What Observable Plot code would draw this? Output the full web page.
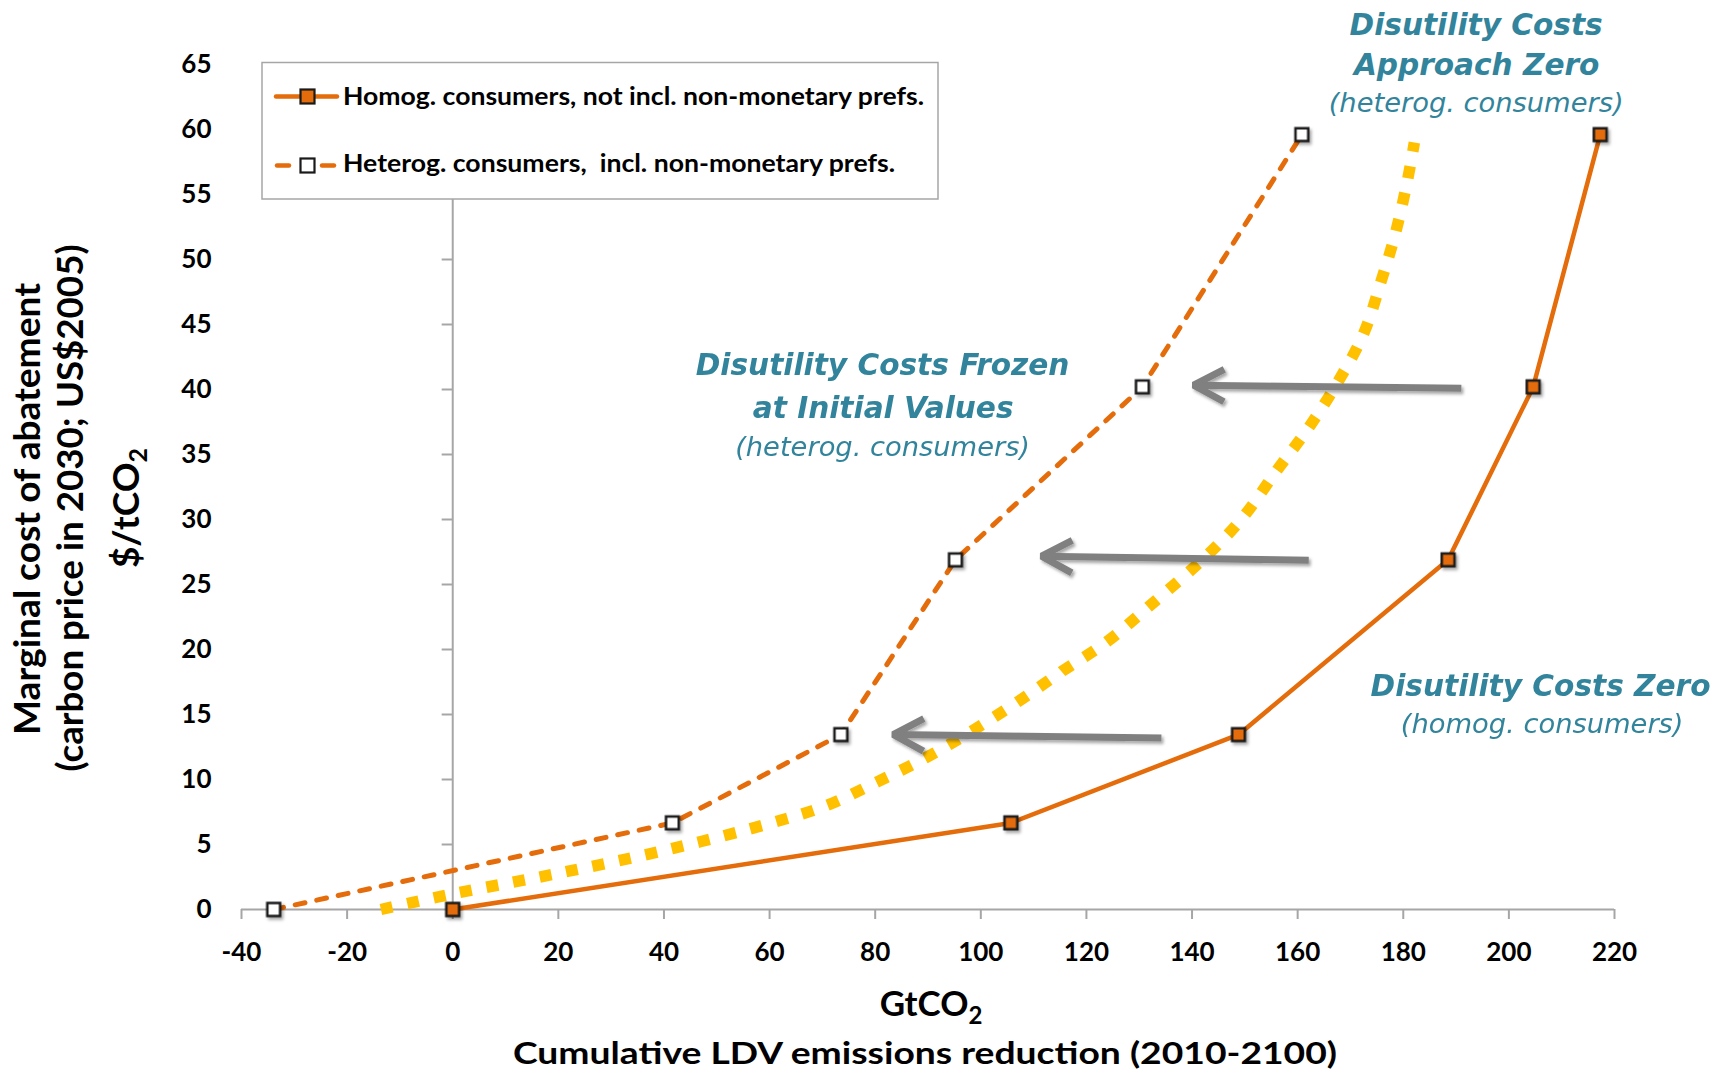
<!DOCTYPE html>
<html>
<head>
<meta charset="utf-8">
<script src="https://cdn.jsdelivr.net/npm/d3@7"></script>
<script src="https://cdn.jsdelivr.net/npm/@observablehq/plot@0.6"></script>
<style>
  html, body { margin: 0; padding: 0; background: #fff; }
  #chart { width: 1729px; height: 1073px; }
</style>
</head>
<body>
<div id="chart"></div>
<script>
// ---------------- data ----------------
const xTicks = [-40, -20, 0, 20, 40, 60, 80, 100, 120, 140, 160, 180, 200, 220];
const yTicks = [0, 5, 10, 15, 20, 25, 30, 35, 40, 45, 50, 55, 60, 65];

// marginal cost levels ($/tCO2) shared by both scenario series
const costLevels = [0, 6.66, 13.45, 26.9, 40.2, 59.6];
// cumulative reduction (GtCO2)
const homogReduction = [0, 105.7, 148.8, 188.5, 204.6, 217.3];
const heterogReduction = [-33.9, 41.6, 73.5, 95.2, 130.6, 160.8];

// "Disutility costs approach zero" curve (yellow dotted)
const approachReduction = [-13.6, 0, 20.2, 41.7, 60.7, 70.8, 80.3, 89.7, 98.6, 107.1, 115.3, 123.9, 131.8, 143.0, 149.7, 156.1, 161.8, 167.5, 172.5, 175.7, 178.5, 180.8, 182.1];
const approachCost = [0, 1.2, 2.8, 4.7, 6.7, 8.0, 9.8, 11.7, 13.8, 16.0, 18.3, 20.6, 23.3, 27.3, 30.2, 33.8, 36.9, 40.5, 44.3, 48.2, 52.0, 56.1, 59.0];

// shift arrows (from -> to), in data units
const arrowFromX = [191.0, 162.1, 134.2];
const arrowFromY = [40.1, 26.87, 13.2];
const arrowToX = [140.3, 111.5, 83.4];
const arrowToY = [40.33, 27.18, 13.46];

// annotation lines (baseline anchors in data units)
const noteText = ["Disutility Costs", "Approach Zero", "(heterog. consumers)",
                  "Disutility Costs Frozen", "at Initial Values", "(heterog. consumers)",
                  "Disutility Costs Zero", "(homog. consumers)"];
const noteX = [193.8, 193.9, 193.8, 81.4, 81.5, 81.4, 206.0, 206.3];
const noteY = [67.25, 64.18, 61.35, 41.1, 37.77, 34.87, 16.43, 13.54];
const noteIsHeading = [true, true, false, true, true, false, true, false];

const legendLabels = ["Homog. consumers, not incl. non-monetary prefs.",
                      "Heterog. consumers,  incl. non-monetary prefs."];

// ---------------- styles ----------------
const ORANGE = "#E46C0A", YELLOW = "#FFC000", TEAL = "#31849B", ARROW = "#808080", AXIS = "#A6A6A6";
const UI_FONT = "Lato, 'Open Sans', sans-serif";
const NOTE_FONT = "'DejaVu Sans', 'Liberation Sans', sans-serif";

const homog = costLevels.map((c, i) => ({x: homogReduction[i], y: c}));
const heterog = costLevels.map((c, i) => ({x: heterogReduction[i], y: c}));
const approach = approachCost.map((c, i) => ({x: approachReduction[i], y: c}));
const arrows = arrowFromX.map((_, i) => ({x1: arrowFromX[i], y1: arrowFromY[i], x2: arrowToX[i], y2: arrowToY[i]}));
const notes = noteText.map((t, i) => ({text: t, x: noteX[i], y: noteY[i], heading: noteIsHeading[i]}));

const W = 1729, H = 1073;

const chart = Plot.plot({
  width: W,
  height: H,
  marginLeft: 241,
  marginRight: 115,
  marginTop: 64,
  marginBottom: 164,
  x: {domain: [-40, 220], label: null},
  y: {domain: [0, 65], label: null},
  style: {background: "#fff", color: "#000", fontFamily: UI_FONT, fontSize: "26px", fontWeight: "bold", overflow: "visible"},
  marks: [
    // vertical axis line crossing at x = 0
    Plot.ruleX([0], {y1: 0, y2: 65, stroke: AXIS, strokeWidth: 2}),
    // y tick marks on that line
    Plot.ruleY(yTicks.filter(d => d > 0), {y: d => d, x1: -2, x2: 0, stroke: AXIS, strokeWidth: 2}),
    // horizontal axis line
    Plot.ruleY([0], {x1: -40, x2: 220, stroke: AXIS, strokeWidth: 2}),
    Plot.axisX({ticks: xTicks, tickSize: 10, tickPadding: 23, stroke: AXIS, strokeWidth: 2, fill: "#000",
                tickFormat: d => String(d), fontFamily: UI_FONT, fontSize: 26, fontWeight: "bold"}),
    Plot.axisY({ticks: yTicks, tickSize: 0, tickPadding: 30, fill: "#000",
                tickFormat: d => String(d), fontFamily: UI_FONT, fontSize: 26, fontWeight: "bold"}),
    // yellow dotted curve
    Plot.line(approach, {x: "x", y: "y", curve: "catmull-rom", stroke: YELLOW, strokeWidth: 11.5,
                         strokeDasharray: "12,15", strokeLinecap: "butt"}),
    // arrows
    Plot.arrow(arrows, {x1: "x1", y1: "y1", x2: "x2", y2: "y2", stroke: ARROW, strokeWidth: 7,
                        headLength: 7.4, headAngle: 56, strokeLinecap: "butt", strokeLinejoin: "miter"}),
    // heterogeneous (dashed)
    Plot.line(heterog, {x: "x", y: "y", stroke: ORANGE, strokeWidth: 5, strokeDasharray: "10,12", strokeLinecap: "round"}),
    // homogeneous (solid)
    Plot.line(homog, {x: "x", y: "y", stroke: ORANGE, strokeWidth: 4.5}),
    Plot.dot(heterog, {x: "x", y: "y", symbol: "square", r: 7.2, fill: "#fff", stroke: "#1a1a1a", strokeWidth: 2.5}),
    Plot.dot(homog, {x: "x", y: "y", symbol: "square", r: 7.2, fill: ORANGE, stroke: "#1a1a1a", strokeWidth: 2.5}),
    // annotations
    Plot.text(notes.filter(d => d.heading), {x: "x", y: "y", text: "text", fill: TEAL, fontFamily: NOTE_FONT,
      fontWeight: "bold", fontStyle: "italic", fontSize: 29.6, textAnchor: "middle", lineAnchor: "bottom"}),
    Plot.text(notes.filter(d => !d.heading), {x: "x", y: "y", text: "text", fill: TEAL, fontFamily: NOTE_FONT,
      fontWeight: "normal", fontStyle: "italic", fontSize: 27.3, textAnchor: "middle", lineAnchor: "bottom"})
  ]
});

const svg = d3.select(chart);

// drop shadow for markers and arrows
const defs = svg.insert("defs", ":first-child");
const f = defs.append("filter").attr("id", "softShadow").attr("x", "-50%").attr("y", "-50%").attr("width", "200%").attr("height", "200%");
f.append("feDropShadow").attr("dx", 2).attr("dy", 2.5).attr("stdDeviation", 1.8).attr("flood-color", "#000").attr("flood-opacity", 0.35);
svg.selectAll('g[aria-label="arrow"], g[aria-label="dot"]').attr("filter", "url(#softShadow)");

// axis titles
const xt = svg.append("text").attr("x", 931).attr("y", 1016).attr("text-anchor", "middle")
  .attr("font-family", UI_FONT).attr("font-size", 35).attr("font-weight", "bold").attr("fill", "#000");
xt.append("tspan").text("GtCO");
xt.append("tspan").attr("font-size", 24).attr("dy", 8).text("2");

svg.append("text").attr("x", 925).attr("y", 1064).attr("text-anchor", "middle")
  .attr("font-family", UI_FONT).attr("font-size", 31).attr("font-weight", "bold").attr("fill", "#000")
  .attr("textLength", 824).attr("lengthAdjust", "spacingAndGlyphs")
  .text("Cumulative LDV emissions reduction (2010-2100)");

svg.append("text").attr("transform", "translate(40,509) rotate(-90)").attr("text-anchor", "middle")
  .attr("font-family", UI_FONT).attr("font-size", 36).attr("font-weight", "bold").attr("fill", "#000")
  .attr("textLength", 452).attr("lengthAdjust", "spacingAndGlyphs")
  .text("Marginal cost of abatement");
svg.append("text").attr("transform", "translate(83,508) rotate(-90)").attr("text-anchor", "middle")
  .attr("font-family", UI_FONT).attr("font-size", 36).attr("font-weight", "bold").attr("fill", "#000")
  .attr("textLength", 527).attr("lengthAdjust", "spacingAndGlyphs")
  .text("(carbon price in 2030; US$2005)");
const yt3 = svg.append("text").attr("transform", "translate(139,508) rotate(-90)").attr("text-anchor", "middle")
  .attr("font-family", UI_FONT).attr("font-size", 37).attr("font-weight", "bold").attr("fill", "#000");
yt3.append("tspan").text("$/tCO");
yt3.append("tspan").attr("font-size", 25).attr("dy", 8).text("2");

// legend
const lg = svg.append("g").attr("class", "legend").attr("text-anchor", "start");
lg.append("rect").attr("x", 262).attr("y", 62.5).attr("width", 676).attr("height", 136.5)
  .attr("fill", "#fff").attr("stroke", AXIS).attr("stroke-width", 1.5);
const rows = [
  {y: 96.5, dashed: false, fill: ORANGE, tb: 105, len: 581},
  {y: 165.5, dashed: true, fill: "#fff", tb: 172, len: 552}
];
rows.forEach((r, i) => {
  if (r.dashed) {
    lg.append("line").attr("x1", 277).attr("x2", 289).attr("y1", r.y).attr("y2", r.y)
      .attr("stroke", ORANGE).attr("stroke-width", 4.5).attr("stroke-linecap", "round");
    lg.append("line").attr("x1", 322).attr("x2", 334).attr("y1", r.y).attr("y2", r.y)
      .attr("stroke", ORANGE).attr("stroke-width", 4.5).attr("stroke-linecap", "round");
  } else {
    lg.append("line").attr("x1", 276).attr("x2", 337).attr("y1", r.y).attr("y2", r.y)
      .attr("stroke", ORANGE).attr("stroke-width", 4.5).attr("stroke-linecap", "round");
  }
  lg.append("rect").attr("x", 307.5 - 7).attr("y", r.y - 7).attr("width", 14).attr("height", 14)
    .attr("fill", r.fill).attr("stroke", "#1a1a1a").attr("stroke-width", 2.2);
  lg.append("text").attr("x", 343).attr("y", r.tb).attr("text-anchor", "start")
    .attr("font-family", UI_FONT).attr("font-size", 25.5)
    .attr("font-weight", "bold").attr("fill", "#000")
    .attr("textLength", r.len).attr("lengthAdjust", "spacingAndGlyphs")
    .style("white-space", "pre")
    .text(legendLabels[i]);
});

document.getElementById("chart").appendChild(chart);
</script>
</body>
</html>
